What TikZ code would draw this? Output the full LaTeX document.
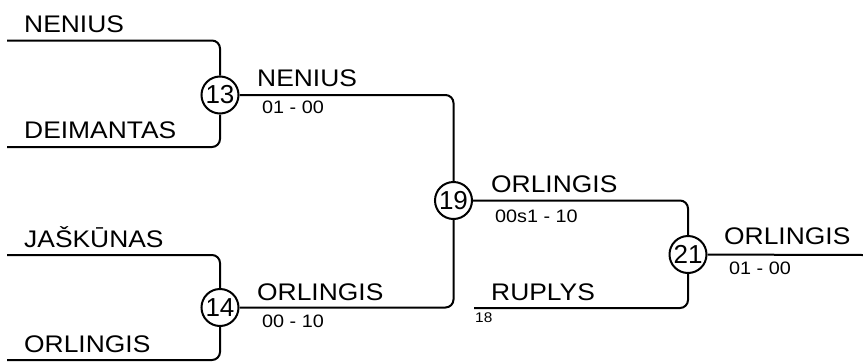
\documentclass[tikz,border=0pt]{standalone}
\usepackage{fontspec}
\setmainfont{Liberation Sans}[FakeStretch=1.1]
\newfontfamily\matchfont{Liberation Sans}
\usetikzlibrary{positioning}

\begin{document}
\begin{tikzpicture}
			[x=1pt,y=-1pt,
			 match/.style={circle,draw,line width=2pt,inner sep=0pt,minimum size=37pt,
			   font=\matchfont\fontsize{26}{26}\selectfont},
			 team/.style={anchor=base west,inner sep=0pt,font=\fontsize{24}{24}\selectfont},
			 score/.style={anchor=base west,inner sep=0pt,font=\fontsize{18}{18}\selectfont},
			 seed/.style={anchor=base west,inner sep=0pt,font=\fontsize{14}{14}\selectfont},
			 connect/.style={line width=2pt,rounded corners=8pt}]
			\useasboundingbox (0,0) rectangle (863,362);

			% matches
			\node[match] (m13) at (220,95) {13};
			\node[match] (m14) at (220,307.5) {14};
			\node[match] (m19) at (453.5,200.5) {19};
			\node[match] (m21) at (688,254.5) {21};

			% first round
			\coordinate (a1) at (7,40.5);
			\coordinate (a2) at (7,147);
			\coordinate (b1) at (7,255);
			\coordinate (b2) at (7,360);
			\draw[connect] (a1) -| (m13);
			\draw[connect] (a2) -| (m13);
			\draw[connect] (b1) -| (m14);
			\draw[connect] (b2) -| (m14);
			\node[team] (tNen) at (24,32.5) {NENIUS};
			\node[team] (tDei) at (24,138) {DEIMANTAS};
			\node[team] (tJas) at (24,247) {JAŠKŪNAS};
			\node[team] (tOrl) at (24,352.5) {ORLINGIS};

			% second round
			\draw[connect] (m13) -| (m19);
			\draw[connect] (m14) -| (m19);
			\node[team] (w13) at (257,86) {NENIUS};
			\node[score] (s13) at (262,113) {01 - 00};
			\node[team] (w14) at (257,300.5) {ORLINGIS};
			\node[score] (s14) at (262,327) {00 - 10};

			% final
			\coordinate (r18) at (474,308);
			\coordinate (fin) at (863,255);
			\draw[connect] (m19) -| (m21);
			\draw[connect] (r18) -| (m21);
			\draw[connect] (m21) -- (fin);
			\node[team] (w19) at (491,192.5) {ORLINGIS};
			\node[score] (s19) at (495,222) {00s1 - 10};
			\node[team] (tRup) at (491,300.5) {RUPLYS};
			\node[seed] (n18) at (475,322.5) {18};
			\node[team] (w21) at (724,244) {ORLINGIS};
			\node[score] (s21) at (729,274) {01 - 00};
\end{tikzpicture}
\end{document}
